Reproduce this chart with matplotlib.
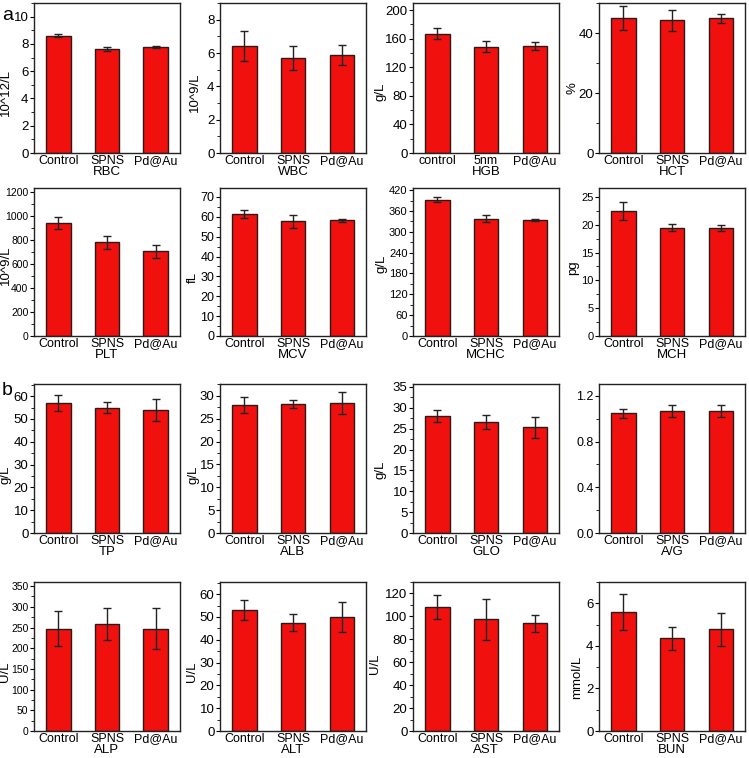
import matplotlib
matplotlib.use("Agg")
import matplotlib.pyplot as plt
from matplotlib.ticker import MultipleLocator, AutoMinorLocator

plt.rcParams['font.family'] = ['Liberation Sans', 'DejaVu Sans']

groups = ["Control", "SPNS", "Pd@Au"]
groups_hgb = ["control", "5nm", "Pd@Au"]

names = ["RBC", "WBC", "HGB", "HCT",
         "PLT", "MCV", "MCHC", "MCH",
         "TP", "ALB", "GLO", "A/G",
         "ALP", "ALT", "AST", "BUN"]
units = ["10^12/L", "10^9/L", "g/L", "%",
         "10^9/L", "fL", "g/L", "pg",
         "g/L", "g/L", "g/L", "",
         "U/L", "U/L", "U/L", "mmol/L"]

rbc = [8.6, 7.65, 7.75];       rbc_err = [0.1, 0.15, 0.08]
wbc = [6.4, 5.7, 5.9];         wbc_err = [0.9, 0.7, 0.6]
hgb = [167, 149, 150];         hgb_err = [8, 8, 6]
hct = [45.0, 44.3, 45.0];      hct_err = [4.0, 3.5, 1.5]
plt_ = [945, 780, 705];        plt_err = [50, 55, 55]
mcv = [61.5, 57.8, 58.2];      mcv_err = [2.0, 3.3, 0.8]
mchc = [392, 338, 334];        mchc_err = [7, 9, 4]
mch = [22.5, 19.5, 19.4];      mch_err = [1.6, 0.7, 0.5]
tp = [57.0, 55.0, 54.0];       tp_err = [3.5, 2.5, 4.7]
alb = [28.0, 28.3, 28.5];      alb_err = [1.7, 0.9, 2.4]
glo = [28.0, 26.5, 25.3];      glo_err = [1.5, 1.7, 2.5]
ag = [1.05, 1.07, 1.07];       ag_err = [0.04, 0.05, 0.05]
alp = [247, 258, 247];         alp_err = [42, 38, 50]
alt = [53.0, 47.5, 50.0];      alt_err = [4.2, 3.7, 6.7]
ast = [108, 97.5, 94];         ast_err = [10.5, 18, 7.5]
bun = [5.6, 4.35, 4.78];       bun_err = [0.85, 0.55, 0.78]

values = [rbc, wbc, hgb, hct, plt_, mcv, mchc, mch, tp, alb, glo, ag, alp, alt, ast, bun]
errors = [rbc_err, wbc_err, hgb_err, hct_err, plt_err, mcv_err, mchc_err, mch_err,
          tp_err, alb_err, glo_err, ag_err, alp_err, alt_err, ast_err, bun_err]
ylims = [11, 9, 210, 50, 1233, 74.5, 426, 26.6, 65.3, 32.6, 35.7, 1.305, 360, 65.3, 130, 7.0]
ysteps = [2, 2, 40, 20, 200, 10, 60, 5, 10, 5, 5, 0.4, 50, 10, 20, 2]
tickfmt = [None] * 16
tickfmt[11] = "%.1f"

# layout (pixels)
ytick_size = [9.5, 9.5, 9.5, 9.5, 7.5, 9, 8, 8, 9.5, 9.5, 9.5, 9, 7.5, 9.5, 9.5, 9.5]
ylab_dx = [22, 19, 26, 21, 22, 21, 25, 20, 22, 21, 26, 0, 23, 22, 32, 16]
ylab_y = [92, 92, 92, 88, 265, 277, 264, 268, 475, 475, 470, 0, 672, 672, 664, 677]

W, H = 749, 758
fig = plt.figure(figsize=(W / 100, H / 100), dpi=100)

col_left = [34, 220, 413, 599]
col_w = 146
row_top = [3, 188, 384, 582]
row_bot = [153, 336, 533, 731]

bar_color = "#f0100e"

for i in range(16):
    r, c = divmod(i, 4)
    l = col_left[c]
    t = row_top[r]
    b = row_bot[r]
    h = b - t
    ax = fig.add_axes([l / W, 1 - b / H, col_w / W, h / H])
    x = [1, 2, 3]
    ax.bar(x, values[i], width=0.5, color=bar_color, edgecolor="#2a1a1a", linewidth=1.0,
           yerr=errors[i], error_kw=dict(ecolor="#222222", elinewidth=1.0, capsize=3, capthick=1.0))
    ax.set_xlim(0.5, 3.5)
    ax.set_ylim(0, ylims[i])
    ax.yaxis.set_major_locator(MultipleLocator(ysteps[i]))
    ax.yaxis.set_minor_locator(AutoMinorLocator(2))
    if tickfmt[i]:
        ax.yaxis.set_major_formatter(plt.FormatStrFormatter(tickfmt[i]))
    ax.set_xticks(x)
    ax.set_xticklabels(groups_hgb if names[i] == "HGB" else groups, fontsize=9)
    ax.tick_params(axis='x', length=0, pad=1.5)
    ax.tick_params(axis='y', which='major', length=3, direction='out',
                   labelsize=ytick_size[i], pad=1)
    ax.tick_params(axis='y', which='minor', length=2, direction='out')
    ax.set_xlabel(names[i], fontsize=9.5, labelpad=-1)
    if units[i]:
        ax.set_ylabel(units[i], fontsize=9.5)
        ax.yaxis.set_label_coords(-ylab_dx[i] / col_w, (b - ylab_y[i]) / h)
    for s in ax.spines.values():
        s.set_linewidth(1.0)
        s.set_color("#222222")

fig.text(2 / W, 1 - 15 / H, "a", fontsize=14, va="center", ha="left")
fig.text(2 / W, 1 - 390 / H, "b", fontsize=14, va="center", ha="left")

fig.savefig("out.png", dpi=100)
